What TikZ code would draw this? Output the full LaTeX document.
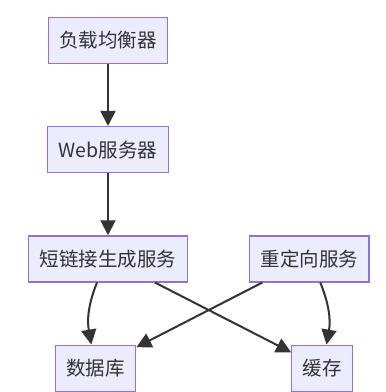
\documentclass[tikz,border=0pt]{standalone}
\usepackage{fontspec}
\newfontfamily\cjk{Noto Sans CJK SC}
\usepackage{tikz}
\usetikzlibrary{arrows.meta, positioning}
\definecolor{boxfill}{HTML}{ECECFF}
\definecolor{boxline}{HTML}{9370DB}
\definecolor{edgegray}{HTML}{333333}

\begin{document}
\begin{tikzpicture}[
      x=1pt, y=1pt,
      node distance=62pt,
      box/.style={rectangle, draw=boxline, fill=boxfill, line width=1.3pt, inner xsep=11pt, minimum height=46pt, text=edgegray, font=\cjk\fontsize{19.5}{23}\selectfont},
      arrow/.style={-{Triangle[length=15pt,width=15pt]}, draw=edgegray, line width=2pt}
    ]
      \useasboundingbox (0,0) rectangle (386,-392);

      % Components
      \node[box] (lb) at (108,-40.3) {负载均衡器};
      \node[box, below=of lb] (web) {Web服务器};
      \node[box, below=of web] (shorten) {短链接生成服务};
      \node[box, right=61pt of shorten] (redirect) {重定向服务};

      % Storage
      \node[box, below=of shorten, xshift=-12.5pt] (db) {数据库};
      \node[box, below=of redirect, xshift=13pt] (cache) {缓存};

      % Arrows
      \draw[arrow] (lb) -- (web);
      \draw[arrow] (web) -- (shorten);
      \draw[arrow] ([xshift=-11pt]shorten.south) to[out=-112, in=100] (db);
      \draw[arrow] ([xshift=47pt]shorten.south) -- (cache);
      \draw[arrow] ([xshift=-47pt]redirect.south) -- (db);
      \draw[arrow] ([xshift=11pt]redirect.south) to[out=-68, in=80] (cache);

    \end{tikzpicture}
\end{document}
